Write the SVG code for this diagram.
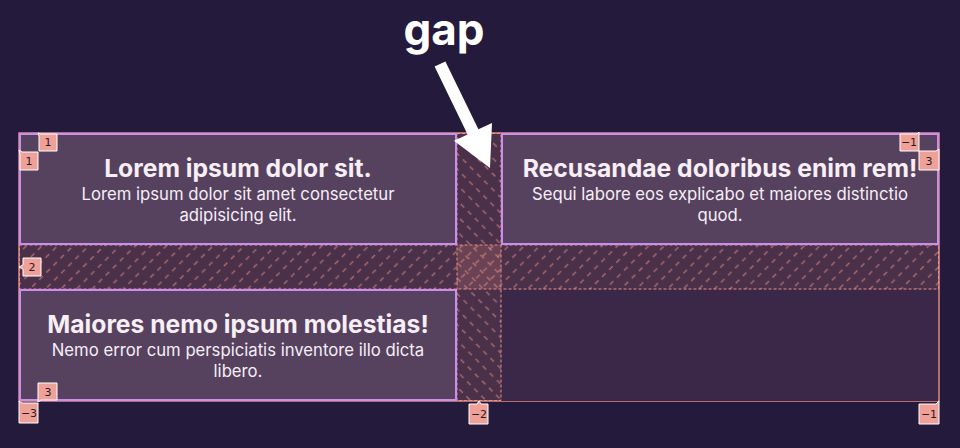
<svg xmlns="http://www.w3.org/2000/svg" width="960" height="448" viewBox="0 0 960 448">
<style>
.cell{fill:#56425f;stroke:#c98ef2;stroke-width:2}
.gap{fill:rgba(232,140,130,0.2);stroke:#e6928a;stroke-width:1;stroke-dasharray:3 2}
.title{font-family:Inter,"Liberation Sans",sans-serif;font-weight:700;font-size:24.7px;fill:#f7eef6;text-anchor:middle}
.body{font-family:Inter,"Liberation Sans",sans-serif;font-size:16.7px;fill:#f7eef6;text-anchor:middle}
.lbl rect,.lbl path{fill:#eea199;stroke:#fff;stroke-width:1}
.lbl text{font-family:"DejaVu Sans",sans-serif;font-size:11px;fill:#2b1a1c;text-anchor:middle}
.hl{stroke:#e8938a;stroke-opacity:0.6;stroke-width:1.4;stroke-dasharray:5 5}
</style>
<defs>
<pattern id="hr" width="10" height="11" patternUnits="userSpaceOnUse" patternTransform="rotate(-45)">
<line x1="0" y1="5.5" x2="10" y2="5.5" class="hl"/>
</pattern>
<pattern id="hc" width="10" height="11" patternUnits="userSpaceOnUse" patternTransform="rotate(45)">
<line x1="0" y1="5.5" x2="10" y2="5.5" class="hl"/>
</pattern>
</defs>
<rect width="960" height="448" fill="#241a3b"/>
<g id="container">
<rect x="19" y="133" width="920" height="268" fill="none" stroke="#e08c84" stroke-width="1.5"/>
</g>
<g id="empty-cell">
<rect x="501" y="289" width="437" height="112" fill="#3b2848"/>
</g>
<g id="row-gap">
<rect x="19.5" y="245" width="919" height="44" class="gap"/>
<rect x="19.5" y="245" width="919" height="44" fill="url(#hr)"/>
</g>
<g id="column-gap">
<rect x="457" y="133.5" width="44" height="267" class="gap"/>
<rect x="457" y="133.5" width="44" height="267" fill="url(#hc)"/>
</g>
<g id="cell-1">
<rect x="20" y="134" width="436" height="110" class="cell"/>
<text class="title" x="238" y="177">Lorem ipsum dolor sit.</text>
<text class="body" x="238" y="200">Lorem ipsum dolor sit amet consectetur</text>
<text class="body" x="238" y="221">adipisicing elit.</text>
</g>
<g id="cell-2">
<rect x="502" y="134" width="436" height="110" class="cell"/>
<text class="title" x="720" y="177">Recusandae doloribus enim rem!</text>
<text class="body" x="720" y="200">Sequi labore eos explicabo et maiores distinctio</text>
<text class="body" x="720" y="221">quod.</text>
</g>
<g id="cell-3">
<rect x="20" y="290" width="436" height="110" class="cell"/>
<text class="title" x="238" y="333">Maiores nemo ipsum molestias!</text>
<text class="body" x="238" y="356">Nemo error cum perspiciatis inventore illo dicta</text>
<text class="body" x="238" y="377">libero.</text>
</g>
<g id="labels">
<g class="lbl" id="label-col-1"><path d="M41,134 H57 V151 H39 V136 L38,133 Z"/><text x="48" y="146">1</text></g>
<g class="lbl" id="label-row-1"><path d="M22,152 H38 V170 H20 V154 L19,150 Z"/><text x="29" y="165">1</text></g>
<g class="lbl" id="label-row-2"><path d="M23,258 H41 V276 H23 V269 L19,267 L23,265 Z"/><text x="32" y="271">2</text></g>
<g class="lbl" id="label-row-3"><path d="M38,383 H57 V400 H41 L38,402 Z"/><text x="48" y="396">3</text></g>
<g class="lbl" id="label-row-neg3"><path d="M19,401 L22,403 H38 V423 H19 Z"/><text x="29" y="417">−3</text></g>
<g class="lbl" id="label-col-neg1"><path d="M900,134 H917 L919,132 V151 H900 Z"/><text x="909" y="146">−1</text></g>
<g class="lbl" id="label-col-3"><path d="M919,151 H936 L939,149 V170 H919 Z"/><text x="929" y="165">3</text></g>
<g class="lbl" id="label-col-neg2"><path d="M469,404 H477 L479,401 L481,404 H488 V424 H469 Z"/><text x="479" y="418">−2</text></g>
<g class="lbl" id="label-row-neg1"><path d="M919,404 H936 L939,401 V424 H919 Z"/><text x="929" y="418">−1</text></g>
</g>
<g id="gap-label">
<text x="444" y="45" font-family="Inter,'Open Sans',sans-serif" font-weight="700" font-size="44" fill="#ffffff" text-anchor="middle">gap</text>
</g>
<g id="connectors">
<polygon points="445.4,61.4 478.4,129.2 492,122.9 490,168 454,140.7 467.6,134.4 434.6,66.6" fill="#ffffff"/>
</g>
</svg>
